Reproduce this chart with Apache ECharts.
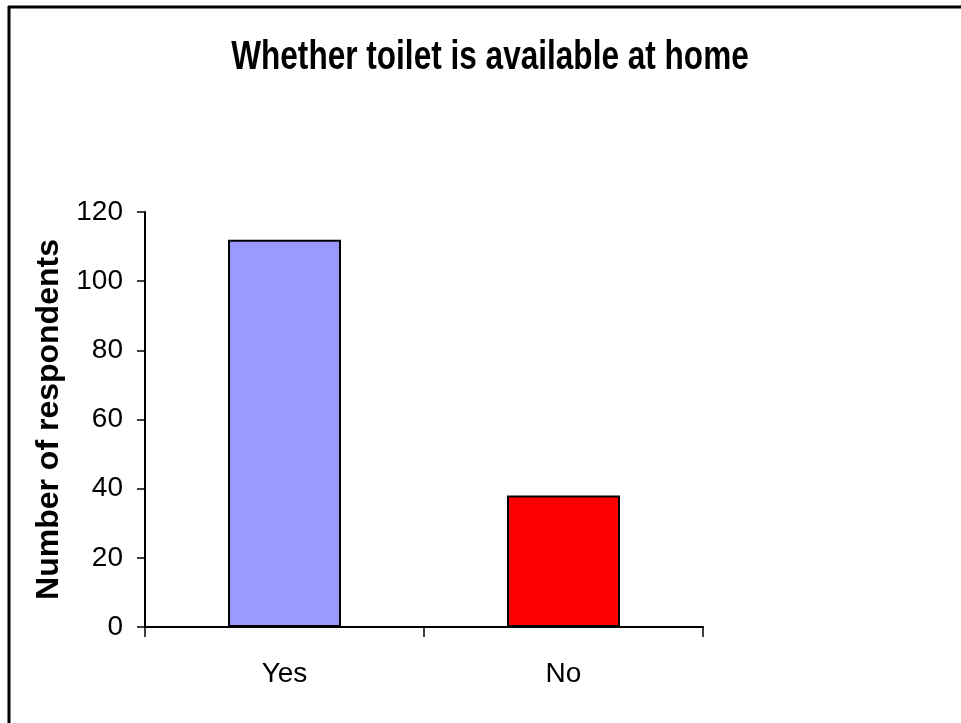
<!DOCTYPE html>
<html>
<head>
<meta charset="utf-8">
<script src="https://cdn.jsdelivr.net/npm/echarts@6/dist/echarts.min.js"></script>
<style>
html,body{margin:0;padding:0;background:#fff;}
#chart{width:961px;height:723px;}
</style>
</head>
<body>
<div id="chart"></div>
<script>
var categories = ['Yes', 'No'];
var respondents = [112, 38];
var barColors = ['#9999FF', '#FF0000'];
var titleText = 'Whether toilet is available at home';
var yAxisName = 'Number of respondents';

var sans = '"Liberation Sans", Arial, sans-serif';
var chart = echarts.init(document.getElementById('chart'));
chart.setOption({
  animation: false,
  backgroundColor: '#fff',
  grid: { left: 145, right: 258, top: 212, bottom: 96, containLabel: false },
  xAxis: {
    type: 'category',
    data: categories,
    axisLine: { lineStyle: { color: '#000', width: 2 } },
    axisTick: { show: true, length: 10, lineStyle: { color: '#000', width: 1.5 } },
    axisLabel: { fontFamily: sans, fontSize: 28, color: '#000', margin: 33 }
  },
  yAxis: {
    type: 'value',
    min: 0, max: 120, interval: 20,
    name: yAxisName,
    nameLocation: 'middle',
    nameGap: 80,
    nameMoveOverlap: false,
    nameTextStyle: { fontFamily: sans, fontSize: 32, fontWeight: 'bold', color: '#000' },
    axisLine: { show: true, lineStyle: { color: '#000', width: 2 } },
    axisTick: { show: true, length: 8, lineStyle: { color: '#000', width: 1.5 } },
    splitLine: { show: false },
    axisLabel: { fontFamily: sans, fontSize: 28, color: '#000', margin: 22 }
  },
  series: [{
    type: 'bar',
    barWidth: '40.5%',
    data: respondents.map(function (v, i) {
      return { value: v, itemStyle: { color: barColors[i], borderColor: '#000', borderWidth: 2 } };
    })
  }],
  graphic: [
    { type: 'line', shape: { x1: 8, y1: 7, x2: 961, y2: 7 }, style: { stroke: '#000', lineWidth: 3 } },
    { type: 'line', shape: { x1: 9, y1: 6, x2: 9, y2: 723 }, style: { stroke: '#000', lineWidth: 3 } },
    {
      type: 'text', x: 490, y: 37, scaleX: 0.77,
      style: {
        text: titleText, fill: '#000',
        font: 'bold 41px "Liberation Sans", Arial, sans-serif',
        textAlign: 'center', textVerticalAlign: 'top'
      }
    }
  ]
});
</script>
</body>
</html>
